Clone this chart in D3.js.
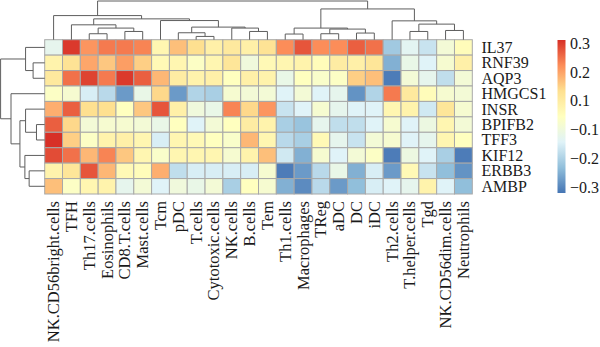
<!DOCTYPE html>
<html><head><meta charset="utf-8">
<script src="https://cdn.jsdelivr.net/npm/d3@7"></script>
<style>
body{margin:0;background:#fff}
svg{display:block}
text{font-family:"Liberation Serif","Times New Roman",serif;fill:#1a1a1a}
</style>
</head><body>
<svg id="chart" width="600" height="347"></svg>
<script>
const columns = ["NK.CD56bright.cells","TFH","Th17.cells","Eosinophils","CD8.T.cells","Mast.cells","Tcm","pDC","T.cells","Cytotoxic.cells","NK.cells","B.cells","Tem","Th1.cells","Macrophages","TReg","aDC","DC","iDC","Th2.cells","T.helper.cells","Tgd","NK.CD56dim.cells","Neutrophils"];
const genes = ["IL37","RNF39","AQP3","HMGCS1","INSR","BPIFB2","TFF3","KIF12","ERBB3","AMBP"];

const vIL37   = [-0.08,0.29,0.19,0.22,0.22,0.21,0.03,0.14,0.10,0.05,0.07,0.05,0.09,0.20,0.26,0.20,0.20,0.25,0.23,-0.18,-0.09,-0.13,-0.04,0.01];
const vRNF39  = [0.04,0.09,0.17,0.13,0.18,0.12,0.02,0.03,-0.01,0.03,0.08,-0.05,0.02,0.03,0.04,0.01,0.06,0.05,0.08,-0.22,-0.07,-0.10,-0.03,0.05];
const vAQP3   = [0.07,0.23,0.28,0.22,0.29,0.25,0.15,0.06,0.04,0.05,0.00,0.05,0.04,-0.07,0.00,-0.02,-0.01,0.12,0.14,-0.29,-0.04,-0.08,-0.14,-0.04];
const vHMGCS1 = [-0.01,-0.03,-0.11,-0.15,-0.25,-0.07,0.11,-0.25,-0.16,-0.17,-0.03,-0.04,-0.04,-0.10,-0.04,-0.10,-0.08,-0.26,-0.16,0.22,0.07,0.01,-0.03,-0.04];
const vINSR   = [0.16,0.25,0.10,0.10,0.00,0.13,0.26,0.05,-0.05,-0.07,0.21,0.11,0.19,-0.13,-0.10,-0.03,-0.08,-0.10,-0.10,0.03,0.04,-0.12,0.08,-0.03];
const vBPIFB2 = [0.25,0.11,-0.04,-0.03,-0.03,-0.04,-0.07,0.00,-0.10,-0.04,0.00,0.06,0.04,-0.17,-0.19,-0.08,-0.14,-0.14,-0.10,-0.03,-0.10,-0.06,0.03,-0.04];
const vTFF3   = [0.30,0.12,-0.01,0.04,0.05,0.03,-0.11,0.03,0.02,0.00,-0.02,0.15,0.03,-0.15,-0.17,0.02,-0.08,-0.13,-0.04,-0.03,-0.10,-0.08,0.03,0.00];
const vKIF12  = [0.27,0.23,0.15,0.21,0.13,0.03,-0.02,0.03,0.03,0.03,-0.03,0.04,0.14,-0.12,-0.22,-0.03,-0.10,-0.04,-0.01,-0.29,-0.06,-0.10,-0.17,-0.29];
const vERBB3  = [0.04,0.08,0.26,0.15,0.02,0.01,0.16,-0.14,-0.11,-0.11,-0.11,-0.11,-0.03,-0.29,-0.25,-0.15,-0.07,-0.22,-0.11,-0.25,0.02,-0.13,-0.20,-0.26];
const vAMBP   = [0.14,-0.01,0.03,0.04,-0.08,-0.04,-0.10,-0.05,-0.07,-0.04,-0.17,0.00,-0.03,-0.22,-0.27,-0.15,-0.25,-0.20,-0.11,-0.10,-0.08,0.04,-0.10,-0.20];
const matrix = [vIL37,vRNF39,vAQP3,vHMGCS1,vINSR,vBPIFB2,vTFF3,vKIF12,vERBB3,vAMBP];

// dendrograms: [merge height, left, right]
const colTree = [39,
  [24.3, "NK.CD56bright.cells",
    [21,
      [15, "TFH", [11.7, [6, "Th17.cells", "Eosinophils"], [8.3, "CD8.T.cells", "Mast.cells"]]],
      [19.3, "Tcm", [12.7, [7, "pDC", [3.3, "T.cells", "Cytotoxic.cells"]], [11.7, "NK.cells", [8.3, "B.cells", "Tem"]]]]
    ]
  ],
  [31,
    [11.7, [5.7, "Th1.cells", "Macrophages"], [10.7, [6, "TReg", "aDC"], [6.7, "DC", "iDC"]]],
    [19, "Th2.cells", [15.7, [8.3, "T.helper.cells", "Tgd"], [9.3, "NK.CD56dim.cells", "Neutrophils"]]]
  ]
];
const rowTree = [44.5,
  [19.3, "IL37", [11.7, "RNF39", "AQP3"]],
  [34, "HMGCS1", [25, [19.3, "INSR", [8.3, "BPIFB2", "TFF3"]], [20, "KIF12", [15.7, "ERBB3", "AMBP"]]]]
];

const legendLabels = ["0.3","0.2","0.1","\u22120.1","\u22120.2","\u22120.3"];
const colorStops = [-0.3,-0.2,-0.1,0,0.1,0.2,0.3];
const palette = ["#4575B4","#91BFDB","#E0F3F8","#FFFFBF","#FEE090","#FC8D59","#D73027"];

const svg = d3.select("#chart");
const x = d3.scaleBand().domain(columns).range([44.7, 472.3]);
const y = d3.scaleBand().domain(genes).range([39.7, 194]);
const color = d3.scaleLinear().domain(colorStops).range(palette).clamp(true);

// heatmap cells
const cells = [];
genes.forEach((g,i)=>columns.forEach((c,j)=>cells.push({g,c,v:matrix[i][j]})));
svg.append("g").selectAll("rect").data(cells).join("rect")
  .attr("x",d=>x(d.c)).attr("y",d=>y(d.g))
  .attr("width",x.bandwidth()).attr("height",y.bandwidth())
  .attr("fill",d=>color(d.v)).attr("stroke","#a8a8a8").attr("stroke-width",1);

// dendrograms
const hCol = d3.scaleLinear().domain([0,39]).range([39.7,1]);
const hRow = d3.scaleLinear().domain([0,44.5]).range([44.7,0.6]);
function tree(g, node, leafPos, hPos, vertical){
  if (typeof node === "string") return {p: leafPos(node), h: 0};
  const a = tree(g, node[1], leafPos, hPos, vertical);
  const b = tree(g, node[2], leafPos, hPos, vertical);
  const h = node[0];
  const path = d3.path();
  if (vertical){
    path.moveTo(a.p, hPos(a.h)); path.lineTo(a.p, hPos(h)); path.lineTo(b.p, hPos(h)); path.lineTo(b.p, hPos(b.h));
  } else {
    path.moveTo(hPos(a.h), a.p); path.lineTo(hPos(h), a.p); path.lineTo(hPos(h), b.p); path.lineTo(hPos(b.h), b.p);
  }
  g.append("path").attr("d", path.toString()).attr("fill","none").attr("stroke","#5e5e5e").attr("stroke-width",1);
  return {p:(a.p+b.p)/2, h};
}
tree(svg.append("g"), colTree, n=>x(n)+x.bandwidth()/2, hCol, true);
tree(svg.append("g"), rowTree, n=>y(n)+y.bandwidth()/2, hRow, false);

// row labels
svg.append("g").selectAll("text").data(genes).join("text")
  .attr("x",481.5).attr("y",d=>y(d)+y.bandwidth()/2)
  .attr("dominant-baseline","central").attr("font-size",16).text(d=>d);

// column labels
svg.append("g").selectAll("text").data(columns).join("text")
  .attr("transform",d=>`translate(${x(d)+x.bandwidth()/2},201) rotate(-90)`)
  .attr("text-anchor","end").attr("dominant-baseline","central")
  .attr("font-size",16.5).text(d=>d);

// legend
const defs = svg.append("defs");
const grad = defs.append("linearGradient").attr("id","lg").attr("x1",0).attr("y1",1).attr("x2",0).attr("y2",0);
grad.selectAll("stop").data(colorStops).join("stop")
  .attr("offset",d=>(d+0.3)/0.6).attr("stop-color",d=>color(d));
svg.append("rect").attr("x",557.5).attr("y",40).attr("width",8).attr("height",153).attr("fill","url(#lg)");
const ly = d3.scalePoint().domain(legendLabels).range([43.5,187]);
svg.append("g").selectAll("text").data(legendLabels).join("text")
  .attr("x",570).attr("y",d=>ly(d)).attr("dominant-baseline","central")
  .attr("font-size",16).text(d=>d);
</script>
</body></html>
